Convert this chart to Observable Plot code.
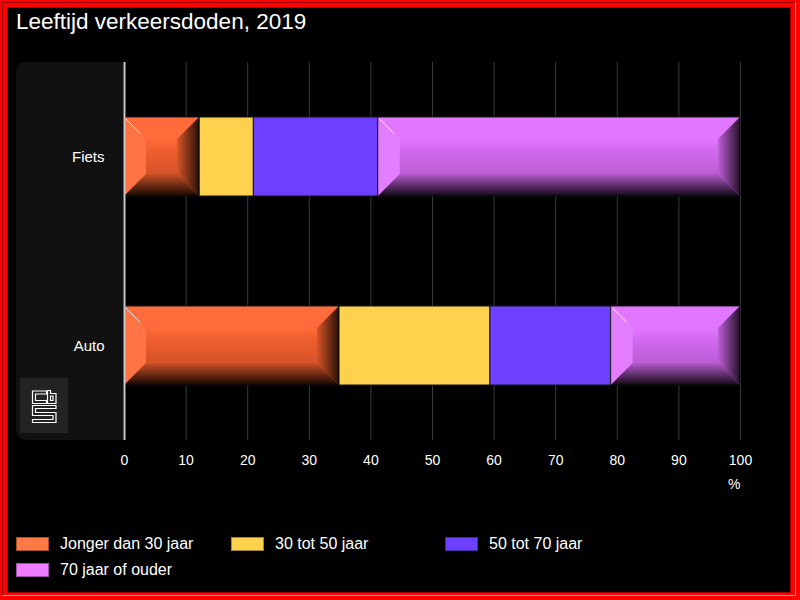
<!DOCTYPE html>
<html>
<head>
<meta charset="utf-8">
<script src="https://cdn.jsdelivr.net/npm/d3@7"></script>
<script src="https://cdn.jsdelivr.net/npm/@observablehq/plot@0.6"></script>
<style>
  html, body { margin: 0; padding: 0; background: #000; }
  body { width: 800px; height: 600px; position: relative; overflow: hidden; font-family: "Liberation Sans", Arial, sans-serif; }
  #frame { position: absolute; left: 0; top: 0; width: 800px; height: 600px; background: #ff0000; }
  #edge { position: absolute; left: 2px; top: 2px; width: 794px; height: 594px; box-sizing: border-box;
          border: 1px solid #9a0000; border-right-color: #ff9a9a; border-bottom-color: #ff9a9a; }
  #inner { position: absolute; left: 8px; top: 8px; width: 782px; height: 584px; background: #000; box-shadow: 0 0 0 1px #a00000; }
  #panel { position: absolute; left: 16px; top: 62px; width: 107px; height: 378px; background: #111; border-radius: 10px 0 0 10px; }
  #logo { position: absolute; left: 20px; top: 378px; width: 48px; height: 55px; background: #232323; }
  #title { position: absolute; left: 16px; top: 11px; font-size: 22.5px; line-height: 22px; color: #fff; white-space: nowrap; }
  #chart { position: absolute; left: 0; top: 0; }
  #legend { position: absolute; left: 16px; top: 537px; width: 760px; }
  .item { position: absolute; display: flex; align-items: center; height: 14px; color: #fff; font-size: 16px; white-space: nowrap; }
  .sw { width: 31px; height: 12px; border: 1px solid rgba(0,0,0,0.35); margin-right: 11px; }
</style>
</head>
<body>
<div id="frame"><div id="edge"></div></div>
<div id="inner"></div>
<div id="panel"></div>
<div id="logo">
  <svg width="48" height="55" viewBox="0 0 48 55">
    <g fill="none" stroke="#fff" stroke-width="1.2">
      <path d="M26.5 13 H12.5 V25.5 H26.5 V22.5 H15.5 V16 H26.5 Z"/>
      <path d="M27.5 12.5 V25.5 H36 V15.5 H30.5 V12.5 Z"/>
      <path d="M30.5 18 H33 V22.5 H30.5 Z"/>
      <path d="M36 27.5 H12.5 V37.5 H33 V41.5 H12.5 V44.5 H36 V34.5 H15.5 V30.5 H36 Z"/>
    </g>
  </svg>
</div>
<div id="title">Leeftijd verkeersdoden, 2019</div>
<div id="chart"></div>
<div id="legend"></div>
<script>
// ---- data ----
const categories = ["Fiets", "Auto"];
const ageGroups = ["Jonger dan 30 jaar", "30 tot 50 jaar", "50 tot 70 jaar", "70 jaar of ouder"];
const fietsValues = [12.2, 8.8, 20.2, 58.8];
const autoValues = [34.9, 24.5, 19.6, 21.0];
const colors = ["#ff6430", "#ffd24e", "#6d40ff", "#e070ff"];
const legendColors = ["#ff7a45", "#ffd24e", "#6d40ff", "#f07cff"];
const xTicks = [0, 10, 20, 30, 40, 50, 60, 70, 80, 90, 100];
const unitLabel = "%";
const beveled = ["Jonger dan 30 jaar", "70 jaar of ouder"];

const data = [];
ageGroups.forEach((g, i) => data.push({vervoer: "Fiets", groep: g, value: fietsValues[i]}));
ageGroups.forEach((g, i) => data.push({vervoer: "Auto", groep: g, value: autoValues[i]}));

const plot = Plot.plot({
  width: 800,
  height: 520,
  marginTop: 62,
  marginBottom: 80,
  marginLeft: 124,
  marginRight: 60,
  style: {background: "transparent", color: "white", fontFamily: "'Liberation Sans', Arial, sans-serif"},
  x: {domain: [0, 100]},
  y: {domain: categories, paddingInner: 0.58, paddingOuter: 0.29},
  color: {domain: ageGroups, range: colors},
  marks: [
    Plot.gridX(xTicks, {stroke: "#3a3a3a", strokeOpacity: 1}),
    Plot.barX(data, {x: "value", y: "vervoer", fill: "groep", stroke: "#151515", strokeWidth: 1}),
    Plot.ruleX([0], {stroke: "#c8c8c8", strokeWidth: 2}),
    Plot.axisX(xTicks, {tickSize: 0, tickPadding: 15, fontSize: 14, label: null}),
    Plot.axisY({tickSize: 0, tickPadding: 20, fontSize: 15, label: null}),
    Plot.text([unitLabel], {text: d => d, frameAnchor: "bottom-right", dy: 48, textAnchor: "end", fontSize: 14, fill: "white"})
  ]
});
document.getElementById("chart").appendChild(plot);

// ---- bevel decoration on the first and last segments (uses the rects Plot drew) ----
const NS = "http://www.w3.org/2000/svg";
const defs = document.createElementNS(NS, "defs");
defs.innerHTML = `
  <linearGradient id="gR" x1="0" y1="0" x2="1" y2="0">
    <stop offset="0" stop-color="#000" stop-opacity="0.15"/>
    <stop offset="1" stop-color="#000" stop-opacity="0.85"/>
  </linearGradient>
  <linearGradient id="gB" x1="0" y1="0" x2="0" y2="1">
    <stop offset="0" stop-color="#000" stop-opacity="0.2"/>
    <stop offset="1" stop-color="#000" stop-opacity="0.92"/>
  </linearGradient>
  <linearGradient id="gF" x1="0" y1="0" x2="0" y2="1">
    <stop offset="0" stop-color="#fff" stop-opacity="0.04"/>
    <stop offset="0.3" stop-color="#000" stop-opacity="0.06"/>
    <stop offset="1" stop-color="#000" stop-opacity="0.16"/>
  </linearGradient>`;
plot.insertBefore(defs, plot.firstChild);
const norm = c => { const k = d3.color(c); return k ? k.formatHex() : ""; };
const bevelFills = beveled.map(g => norm(colors[ageGroups.indexOf(g)]));
plot.querySelectorAll("rect").forEach(r => {
  const fa = r.getAttribute("fill") || r.style.fill || "";
  const f = norm(fa);
  if (!bevelFills.includes(f)) return;
  const x = +r.getAttribute("x"), y = +r.getAttribute("y");
  const w = +r.getAttribute("width"), h = +r.getAttribute("height");
  if (!(w > 0 && h > 0)) return;
  const b = Math.min(22, w / 2 - 1, h / 2 - 1);
  const parent = r.parentNode;
  const tr = r.getAttribute("transform");
  const grp = document.createElementNS(NS, "g");
  if (tr) grp.setAttribute("transform", tr);
  parent.appendChild(grp);
  const poly = (pts, fill, op) => {
    const p = document.createElementNS(NS, "polygon");
    p.setAttribute("points", pts.map(q => q.join(",")).join(" "));
    p.setAttribute("fill", fill);
    p.setAttribute("stroke", "none");
    if (op != null) p.setAttribute("fill-opacity", op);
    grp.appendChild(p);
  };
  poly([[x + b, y + b], [x + w - b, y + b], [x + w - b, y + h - b], [x + b, y + h - b]], "url(#gF)");
  poly([[x, y], [x + w, y], [x + w - b, y + b], [x + b, y + b]], "#fff", 0.05);
  poly([[x, y], [x + b, y + b], [x + b, y + h - b], [x, y + h]], "#fff", 0.1);
  poly([[x + w, y], [x + w, y + h], [x + w - b, y + h - b], [x + w - b, y + b]], "url(#gR)");
  poly([[x, y + h], [x + b, y + h - b], [x + w - b, y + h - b], [x + w, y + h]], "url(#gB)");
  const ln = document.createElementNS(NS, "line");
  ln.setAttribute("x1", x + 2); ln.setAttribute("y1", y + 2);
  ln.setAttribute("x2", x + b * 0.75); ln.setAttribute("y2", y + b * 0.75);
  ln.setAttribute("stroke", "#fff"); ln.setAttribute("stroke-opacity", 0.85); ln.setAttribute("stroke-width", 1);
  grp.appendChild(ln);
});

// ---- legend ----
const legend = document.getElementById("legend");
const colX = [0, 215, 429];
ageGroups.forEach((g, i) => {
  const it = document.createElement("div");
  it.className = "item";
  it.style.left = colX[i % 3] + "px";
  it.style.top = (Math.floor(i / 3) * 26) + "px";
  const sw = document.createElement("span");
  sw.className = "sw";
  sw.style.background = legendColors[i];
  const tx = document.createElement("span");
  tx.textContent = g;
  it.appendChild(sw); it.appendChild(tx);
  legend.appendChild(it);
});
</script>
</body>
</html>
